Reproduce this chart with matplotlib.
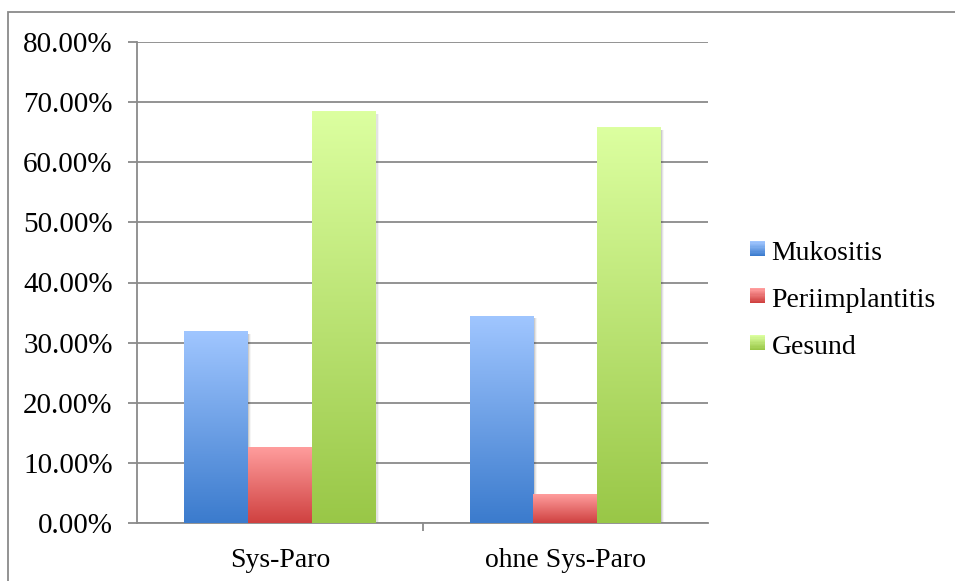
import numpy as np
import matplotlib
matplotlib.use('Agg')
import matplotlib.pyplot as plt
from matplotlib.patches import Rectangle
from matplotlib.legend_handler import HandlerBase
from matplotlib.colors import LinearSegmentedColormap
from matplotlib.ticker import FuncFormatter

font = {'family': ['Liberation Serif', 'DejaVu Serif'],
        'size': 21}
matplotlib.rc('font', **font)

groups = ['Sys-Paro', 'ohne Sys-Paro']
series = ['Mukositis', 'Periimplantitis', 'Gesund']
mukositis = [31.8, 34.4]
periimplantitis = [12.6, 4.8]
gesund = [68.4, 65.7]
yticks = [0, 10, 20, 30, 40, 50, 60, 70, 80]

# (top colour, bottom colour) for each series gradient
shades = [('#a0c6ff', '#3b7bcd'),
          ('#ff9d9d', '#cf4140'),
          ('#dcffa0', '#99c747')]

values = [mukositis, periimplantitis, gesund]
width = 0.223
offsets = [-width, 0.0, width]

fig = plt.figure(figsize=(9.55, 5.81), dpi=100)
ax = fig.add_axes([137 / 955, 1 - 523 / 581, 571 / 955, 481 / 581])

# outer chart frame, only left and top edges are inside the image
frame = Rectangle((8 / 955, -0.1), 1.2, 1 - 12 / 581 + 0.1, transform=fig.transFigure,
                  fill=False, edgecolor='#8a8a8a', linewidth=1.3, zorder=0)
fig.patches.append(frame)

x = np.arange(len(groups))
grad = np.linspace(1, 0, 256).reshape(-1, 1)
for vals, off, (top, bottom) in zip(values, offsets, shades):
    cmap = LinearSegmentedColormap.from_list('g', [bottom, top])
    bars = ax.bar(x + off, vals, width, color='none', edgecolor='none', zorder=3)
    for b in bars:
        x0, y0 = b.get_x(), b.get_y()
        w, h = b.get_width(), b.get_height()
        # soft shadow on the right side
        for k, a in enumerate([0.10, 0.07, 0.04]):
            ax.add_patch(Rectangle((x0 + w, y0), 0.004 * (k + 1), h - 0.3,
                                   facecolor='#000000', alpha=a, edgecolor='none', zorder=2))
        ax.imshow(grad, cmap=cmap, aspect='auto', extent=(x0, x0 + w, y0, y0 + h),
                  zorder=3, interpolation='bilinear')

ax.set_xlim(-0.5, 1.5)
ax.set_ylim(0, 80)
ax.set_yticks(yticks)
ax.yaxis.set_major_formatter(FuncFormatter(lambda v, p: '%.2f%%' % v))
ax.grid(axis='y', color='#8a8a8a', linewidth=1.3, zorder=1)
ax.set_axisbelow(True)

ax.set_xticks(x)
ax.set_xticklabels(groups, fontsize=20)
ax.set_xticks([0.5], minor=True)
ax.tick_params(axis='x', which='major', length=0, pad=18)
ax.tick_params(axis='x', which='minor', length=6, width=1.3, color='#8a8a8a')
ax.tick_params(axis='y', length=6.5, width=1.3, color='#8a8a8a', pad=11)

for s in ['top', 'right']:
    ax.spines[s].set_visible(False)
for s in ['left', 'bottom']:
    ax.spines[s].set_color('#8a8a8a')
    ax.spines[s].set_linewidth(1.3)


class GradientHandler(HandlerBase):
    def __init__(self, top, bottom):
        super().__init__()
        self.top = top
        self.bottom = bottom

    def create_artists(self, legend, orig_handle, xdescent, ydescent,
                       width, height, fontsize, trans):
        cmap = LinearSegmentedColormap.from_list('g', [self.bottom, self.top])
        n = 12
        side = 11.0 * legend.figure.dpi / 72 / 1.39
        x0 = width - side - xdescent
        y0 = -ydescent + (height - side) / 2 + 1
        strips = []
        for i in range(n):
            strips.append(Rectangle((x0, y0 + side * i / n), side, side / n + 0.2,
                                    facecolor=cmap(i / (n - 1)), edgecolor='none',
                                    transform=trans))
        return strips


handles = [Rectangle((0, 0), 1, 1) for _ in series]
handler_map = {h: GradientHandler(t, b) for h, (t, b) in zip(handles, shades)}
fig.legend(handles, series, handler_map=handler_map, loc='center left',
           bbox_to_anchor=(750 / 955, 1 - 300 / 581), frameon=False,
           handlelength=0.55, handleheight=0.7, handletextpad=0.22,
           labelspacing=0.77, borderaxespad=0, borderpad=0, fontsize=20)

fig.savefig('out.png', dpi=100)
